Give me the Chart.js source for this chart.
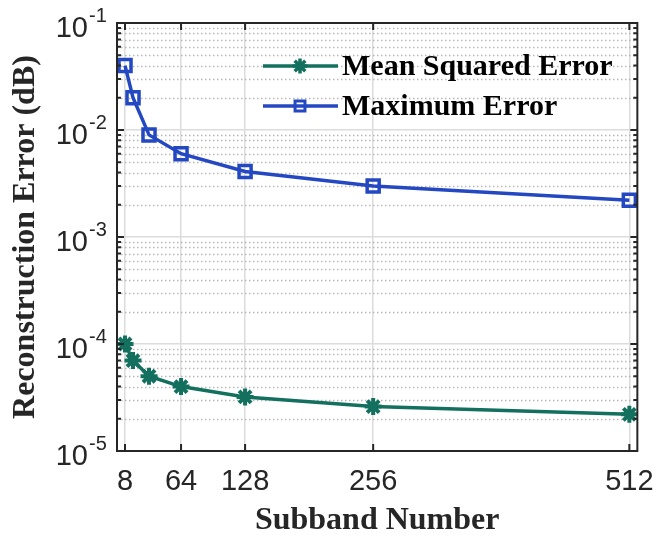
<!DOCTYPE html>
<html>
<head>
<meta charset="utf-8">
<script src="https://cdn.jsdelivr.net/npm/chart.js@4"></script>
<style>
  html, body { margin: 0; padding: 0; background: #fff; }
  #wrap { width: 668px; height: 540px; }
</style>
</head>
<body>
<div id="wrap"><canvas id="errChart" width="668" height="540"></canvas></div>
<script>
const subbands = [8, 16, 32, 64, 128, 256, 512];
const mseValues = [1e-4, 7e-5, 5e-5, 4e-5, 3.2e-5, 2.6e-5, 2.2e-5];
const maxValues = [0.04, 0.02, 0.009, 0.006, 0.0041, 0.003, 0.0022];
const xTickValues = [8, 64, 128, 256, 512];
const yDecades = [1e-5, 1e-4, 1e-3, 1e-2, 1e-1];
const yExponents = ["-5", "-4", "-3", "-2", "-1"];

const tealColor = "#13705f";
const blueColor = "#2447c2";
const sansFont = "'Liberation Sans', Arial, sans-serif";
const serifFont = "'Liberation Serif', 'Times New Roman', serif";

// minor log positions (2..9 x decade) for dotted grid + inner ticks
const minorVals = [];
yDecades.slice(0, -1).forEach((d) => {
  for (let m = 2; m <= 9; m++) minorVals.push(d * m);
});

const framePlugin = {
  id: "matlabFrame",
  beforeDatasetsDraw(chart) {
    const { ctx, chartArea: a, scales } = chart;
    ctx.save();
    ctx.strokeStyle = "#b8b8b8";
    ctx.lineWidth = 1.5;
    ctx.setLineDash([1.5, 2.5]);
    minorVals.forEach((v) => {
      const y = Math.round(scales.y.getPixelForValue(v)) + 0.5;
      ctx.beginPath();
      ctx.moveTo(a.left, y);
      ctx.lineTo(a.right, y);
      ctx.stroke();
    });
    ctx.restore();
  },
  afterDatasetsDraw(chart) {
    const { ctx, chartArea: a, scales } = chart;
    ctx.save();
    ctx.strokeStyle = "#262626";
    ctx.lineWidth = 2;
    // inward ticks
    ctx.beginPath();
    minorVals.forEach((v) => {
      const y = scales.y.getPixelForValue(v);
      ctx.moveTo(a.left, y); ctx.lineTo(a.left + 4, y);
      ctx.moveTo(a.right, y); ctx.lineTo(a.right - 4, y);
    });
    yDecades.forEach((v) => {
      const y = scales.y.getPixelForValue(v);
      ctx.moveTo(a.left, y); ctx.lineTo(a.left + 7, y);
      ctx.moveTo(a.right, y); ctx.lineTo(a.right - 7, y);
    });
    xTickValues.forEach((v) => {
      const x = scales.x.getPixelForValue(v);
      ctx.moveTo(x, a.bottom); ctx.lineTo(x, a.bottom - 7);
      ctx.moveTo(x, a.top); ctx.lineTo(x, a.top + 7);
    });
    ctx.stroke();
    ctx.strokeRect(a.left, a.top, a.right - a.left, a.bottom - a.top);

    // y tick labels 10^k
    ctx.fillStyle = "#262626";
    ctx.textBaseline = "middle";
    yDecades.forEach((v, i) => {
      const y = scales.y.getPixelForValue(v);
      ctx.font = "29px " + sansFont;
      ctx.textAlign = "right";
      ctx.fillText("10", 88, y + 6);
      ctx.font = "20px " + sansFont;
      ctx.textAlign = "left";
      ctx.fillText(yExponents[i], 89, y - 7);
    });

    // legend
    const legendMarks = [
      { radius: 7.5, width: 3.5 },
      { radius: 7, width: 3 },
    ];
    chart.data.datasets.forEach((ds, i) => {
      const y = 66 + i * 40;
      ctx.strokeStyle = ds.borderColor;
      ctx.lineWidth = ds.borderWidth;
      ctx.beginPath();
      ctx.moveTo(263, y); ctx.lineTo(338, y);
      ctx.stroke();
      ctx.fillStyle = ds.pointBackgroundColor;
      ctx.strokeStyle = ds.pointBorderColor;
      ctx.lineWidth = legendMarks[i].width;
      Chart.helpers.drawPoint(ctx, { pointStyle: ds.pointStyle, radius: legendMarks[i].radius, rotation: 0, borderWidth: legendMarks[i].width }, 300, y);
      ctx.fillStyle = "#000";
      ctx.font = "bold 30px " + serifFont;
      ctx.textAlign = "left";
      ctx.textBaseline = "middle";
      ctx.fillText(ds.label, 342, y + 1);
    });
    ctx.restore();
  }
};

const ctx = document.getElementById("errChart").getContext("2d");
new Chart(ctx, {
  type: "line",
  data: {
    datasets: [
      {
        label: "Mean Squared Error",
        data: subbands.map((x, i) => ({ x: x, y: mseValues[i] })),
        borderColor: tealColor,
        borderWidth: 3.5,
        pointStyle: "star",
        pointRadius: 8.5,
        pointBorderWidth: 4,
        pointBorderColor: tealColor,
        pointBackgroundColor: tealColor,
        tension: 0,
      },
      {
        label: "Maximum Error",
        data: subbands.map((x, i) => ({ x: x, y: maxValues[i] })),
        borderColor: blueColor,
        borderWidth: 3.5,
        pointStyle: "rect",
        pointRadius: 8.5,
        pointBorderWidth: 3.5,
        pointBorderColor: blueColor,
        pointBackgroundColor: "rgba(0,0,0,0)",
        tension: 0,
      },
    ],
  },
  options: {
    responsive: false,
    animation: false,
    clip: false,
    layout: { padding: { top: 23, right: 30, left: 0, bottom: 0 } },
    plugins: {
      legend: { display: false },
      tooltip: { enabled: false },
    },
    scales: {
      x: {
        type: "linear",
        min: 0,
        max: 520,
        afterBuildTicks: (scale) => {
          scale.ticks = xTickValues.map((v) => ({ value: v }));
        },
        afterFit: (scale) => { scale.height = 89; },
        grid: { color: "#dcdcdc", lineWidth: 1.5, drawTicks: false },
        border: { display: false },
        ticks: {
          padding: 14,
          color: "#262626",
          font: { family: sansFont, size: 29 },
          maxRotation: 0,
          autoSkip: false,
        },
        title: {
          display: true,
          text: "Subband Number",
          color: "#262626",
          font: { family: serifFont, size: 32, weight: "bold" },
          padding: { top: 0, bottom: 0 },
        },
      },
      y: {
        type: "logarithmic",
        min: 1e-5,
        max: 1e-1,
        afterBuildTicks: (scale) => {
          scale.ticks = yDecades.map((v) => ({ value: v }));
        },
        afterFit: (scale) => { scale.width = 117; },
        grid: { color: "#dcdcdc", lineWidth: 1.5, drawTicks: false },
        border: { display: false },
        ticks: { callback: () => "" },
        title: {
          display: true,
          text: "Reconstruction Error (dB)",
          color: "#262626",
          font: { family: serifFont, size: 32, weight: "bold" },
          padding: { top: 7, bottom: 0 },
        },
      },
    },
  },
  plugins: [framePlugin],
});
</script>
</body>
</html>
